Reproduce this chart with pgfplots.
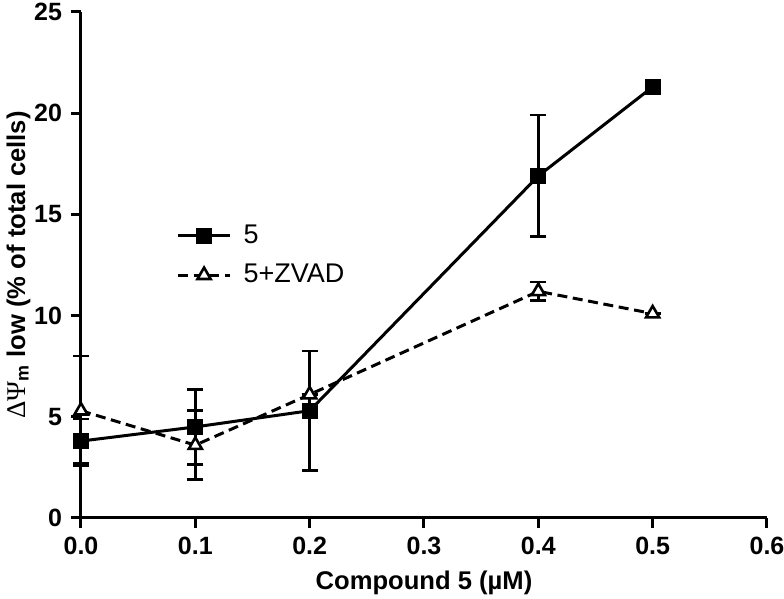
\documentclass[border=0pt]{standalone}
\usepackage{fontspec}
\setmainfont{Liberation Sans}
\newfontfamily\symfont{Liberation Serif}
\usepackage{pgfplots}
\pgfplotsset{compat=1.18}
\begin{document}
\begin{tikzpicture}
\begin{axis}[
  scale only axis,
  width=343pt, height=253pt,
  xmin=0, xmax=0.6, ymin=0, ymax=25,
  axis x line*=bottom, axis y line*=left,
  axis line style={line width=1.5pt, -},
  xtick={0,0.1,0.2,0.3,0.4,0.5,0.6},
  ytick={0,5,10,15,20,25},
  xticklabels={0.0,0.1,0.2,0.3,0.4,0.5,0.6},
  tick align=outside,
  major tick length=5pt,
  tick style={line width=1.5pt, black},
  /pgf/number format/assume math mode=true,
  tick label style={font=\bfseries\fontsize{12.5}{14}\selectfont},
  xticklabel style={yshift=-1pt},
  yticklabel style={xshift=-1pt},
  xlabel={\bfseries Compound 5 (µM)},
  ylabel={{\symfont\fontsize{13.5}{15}\selectfont ΔΨ}\textsubscript{\bfseries m}\bfseries\ low (\% of total cells)},
  label style={font=\fontsize{12.8}{14}\selectfont},
  xlabel style={yshift=-1pt},
  ylabel style={yshift=-5pt},
  clip=false,
  legend style={at={(axis cs:0.078,14.9)}, anchor=north west, draw=none, fill=none,
    font=\fontsize{13.5}{15}\selectfont, row sep=5pt,
    /tikz/every odd column/.append style={column sep=4pt}},
  legend cell align=left,
  legend image code/.code={\draw[mark repeat=2,mark phase=2] plot coordinates {(0pt,0pt) (13pt,0pt) (26pt,0pt)};},
]
\addplot[black, line width=1.5pt, mark=square*, mark size=3.3pt,
  mark options={solid, fill=black},
  error bars/.cd, y dir=both, y explicit,
  error bar style={line width=1.25pt, solid},
  error mark options={rotate=90, mark size=4pt, line width=1.25pt}]
  coordinates {
  (0.0,3.8) +- (0,1.1)
  (0.1,4.5) +- (0,1.85)
  (0.2,5.3) +- (0,2.95)
  (0.4,16.9) +- (0,3.0)
  (0.5,21.3) +- (0,0)
};
\addlegendentry{5}
\addplot[black, line width=1.5pt, dash pattern=on 5pt off 2.8pt, mark=triangle*, mark size=3.8pt,
  mark options={solid, fill=white, line width=1.3pt},
  error bars/.cd, y dir=both, y explicit,
  error bar style={line width=1.25pt, solid},
  error mark options={rotate=90, mark size=4pt, line width=1.25pt, solid}]
  coordinates {
  (0.0,5.3) +- (0,2.7)
  (0.1,3.6) +- (0,1.7)
  (0.2,6.1) +- (0,0)
  (0.4,11.2) +- (0,0.45)
  (0.5,10.1) +- (0,0)
};
\addlegendentry{5+ZVAD}
\end{axis}
\pgfresetboundingbox
\path[use as bounding box] (-40.5pt,-40.5pt) rectangle (351.5pt,259pt);
\end{tikzpicture}
\end{document}
